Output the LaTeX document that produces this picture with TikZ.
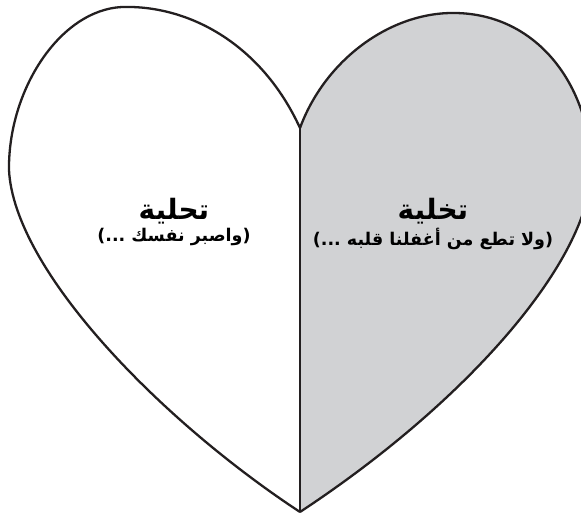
\documentclass[tikz,border=0pt]{standalone}
\usepackage{fontspec}
\TeXXeTstate=1
\newfontfamily\arabicfont[Script=Arabic]{DejaVu Sans}
\usetikzlibrary{positioning}
\definecolor{cgrey}{HTML}{D1D2D4}
\definecolor{cline}{HTML}{231F20}
\tikzset{
  every picture/.style={line width=2.3pt, x=1pt, y=-1pt},
  half/.style={draw=cline, line join=round},
  title/.style={font=\arabicfont\bfseries\fontsize{28}{32}\selectfont, inner sep=0pt},
  note/.style={font=\arabicfont\bfseries\fontsize{17.5}{21}\selectfont, inner sep=0pt},
}

\begin{document}
\begin{tikzpicture}
  \useasboundingbox (0,0) rectangle (581,518);
  \coordinate (dip) at (300,128);
  \coordinate (tip) at (300,512);
  % right half, shaded
  \fill[cgrey] (dip) .. controls (325,60) and (390,12) .. (455,13)
    .. controls (540,14) and (592,90) .. (591,172)
    .. controls (589,260) and (470,400) .. (tip) -- cycle;
  \draw[half] (dip) .. controls (325,60) and (390,12) .. (455,13)
    .. controls (540,14) and (592,90) .. (591,172)
    .. controls (589,260) and (470,400) .. (tip);
  % left half
  \draw[half] (dip) .. controls (262,45) and (190,5) .. (122,7)
    .. controls (60,10) and (8,90) .. (9,170)
    .. controls (14,270) and (160,420) .. (tip);
  \draw[half] (dip) -- (tip);
  % labels
  \node[title] (tahliya) at (174,211) {\beginR تحلية\endR};
  \node[note, below=2pt of tahliya] (sabr) {\beginR (واصبر نفسك ...)\endR};
  \node[title] (takhliya) at (433,211) {\beginR تخلية\endR};
  \node[note, below=2pt of takhliya] (tuti) {\beginR (ولا تطع من أغفلنا قلبه ...)\endR};
\end{tikzpicture}
\end{document}
